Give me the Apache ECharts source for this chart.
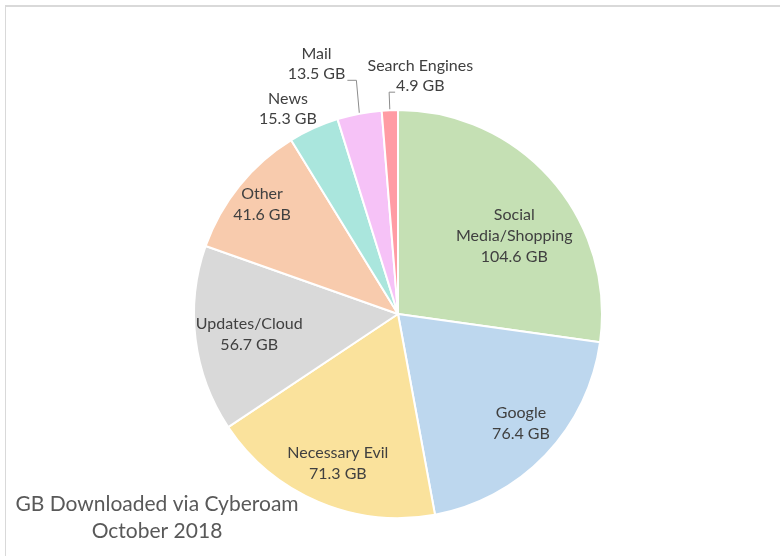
<!DOCTYPE html>
<html>
<head>
<meta charset="utf-8">
<script src="https://cdn.jsdelivr.net/npm/echarts@6/dist/echarts.min.js"></script>
<style>
  html, body { margin: 0; padding: 0; background: #fff; }
  #frame { position: absolute; left: 5px; top: 5px; width: 775px; height: 551px;
           border-top: 2px solid #d9d9d9; border-left: 1px solid #d9d9d9; }
  #main { position: absolute; left: 0; top: 0; width: 780px; height: 556px; }
</style>
</head>
<body>
<div id="frame"></div>
<div id="main"></div>
<script>
var categories = ['Social Media/Shopping', 'Google', 'Necessary Evil', 'Updates/Cloud', 'Other', 'News', 'Mail', 'Search Engines'];
var gbValues = [104.6, 76.4, 71.3, 56.7, 41.6, 15.3, 13.5, 4.9];
var sliceColors = ['#c5e0b4', '#bdd7ee', '#fae29c', '#d9d9d9', '#f8cbad', '#aae6dd', '#f6c2f7', '#ff9ca4'];
var outsideNames = ['News', 'Mail', 'Search Engines'];

var FONT = 'Lato';
var FSIZE = 16;
var labelColor = '#404040';

// text width helper for the outside labels
var cv = document.createElement('canvas').getContext('2d');
cv.font = FSIZE + 'px ' + FONT;
function textW(s) { return cv.measureText(s).width; }

function labelText(p) {
    var n = p.name;
    if (n.length > 16) n = n.replace(' ', '\n');   // excel wraps the long one
    return n + '\n' + p.value + ' GB';
}

var pieData = [];
var labelData = [];
for (var i = 0; i < categories.length; i++) {
    var isOut = outsideNames.indexOf(categories[i]) >= 0;
    var item = {
        name: categories[i],
        value: gbValues[i],
        itemStyle: { color: sliceColors[i] },
        label: { show: isOut },
        labelLine: { show: isOut && categories[i] != 'News' }
    };
    if (categories[i] == 'Search Engines') item.labelLine.length = 18;
    if (categories[i] == 'Mail') item.labelLine.length = 34;
    pieData.push(item);
    labelData.push({
        name: categories[i],
        value: gbValues[i],
        label: { show: !isOut }
    });
}

var myChart = echarts.init(document.getElementById('main'));
var option = {
    animation: false,
    title: {
        text: 'GB Downloaded via Cyberoam\nOctober 2018',
        left: 152,
        top: 486,
        textAlign: 'center',
        textStyle: { fontFamily: FONT, fontSize: 21, fontWeight: 'normal', color: '#595959', lineHeight: 27 }
    },
    series: [{
        type: 'pie',
        center: [398, 314],
        radius: 204,
        startAngle: 90,
        clockwise: true,
        avoidLabelOverlap: false,
        itemStyle: { borderColor: '#fff', borderWidth: 2 },
        label: {
            position: 'outside',
            formatter: labelText,
            fontFamily: FONT,
            fontSize: FSIZE,
            lineHeight: 20,
            color: labelColor,
            align: 'center'
        },
        labelLine: {
            length: 24,
            length2: 9,
            lineStyle: { color: '#8c8c8c', width: 1 }
        },
        labelLayout: function (p) {
            var pts = p.labelLinePoints;
            if (!pts) return {};
            var name = categories[p.dataIndex];
            var w = p.labelRect.width;
            if (name == 'Search Engines') {
                var el = pts[1];
                return {
                    x: el[0] + 7 + textW(gbValues[p.dataIndex] + ' GB') / 2,
                    y: el[1] + 4,
                    align: 'center',
                    verticalAlign: 'bottom',
                    labelLinePoints: [pts[0], el, [el[0] + 6, el[1]]]
                };
            }
            if (name == 'Mail') {
                // keep the leader nearly vertical like the excel one
                var m1 = [pts[0][0] - 3, pts[1][1]];
                var m2 = [m1[0] - 9, m1[1]];
                return {
                    x: m2[0] - 2 - w / 2,
                    y: m2[1] + 4,
                    align: 'center',
                    verticalAlign: 'bottom',
                    labelLinePoints: [pts[0], m1, m2]
                };
            }
            if (name == 'News') {
                return {
                    x: pts[2][0] - w / 2 + 22,
                    y: pts[2][1] + 22,
                    align: 'center',
                    verticalAlign: 'bottom'
                };
            }
            return {};
        },
        data: pieData
    }, {
        // transparent overlay only used to place the inner labels further out
        type: 'pie',
        center: [398, 314],
        radius: [0, 318],
        startAngle: 90,
        clockwise: true,
        silent: true,
        itemStyle: { color: 'rgba(0,0,0,0)' },
        label: {
            position: 'inside',
            formatter: labelText,
            fontFamily: FONT,
            fontSize: FSIZE,
            lineHeight: 21,
            color: labelColor,
            align: 'center'
        },
        labelLine: { show: false },
        labelLayout: function (p) {
            var name = categories[p.dataIndex];
            if (name == 'Social Media/Shopping') return { dx: -6, dy: 28 };
            if (name == 'Google') return { dx: 6, dy: -3 };
            if (name == 'Necessary Evil') return { dx: 3 };
            if (name == 'Updates/Cloud') return { dx: 12 };
            if (name == 'Other') return { dx: -10, dy: -8 };
            return {};
        },
        data: labelData
    }]
};
myChart.setOption(option);
</script>
</body>
</html>
